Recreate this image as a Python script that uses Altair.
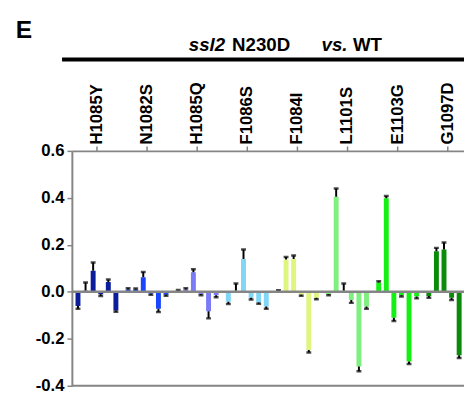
import altair as alt
import pandas as pd

groups = ["H1085Y", "N1082S", "H1085Q", "F1086S", "F1084I", "L1101S", "E1103G", "G1097D"]
colors = ["#0c1d9c", "#1a45ff", "#7b7bf8", "#80d6f6", "#def57e", "#7ff07f", "#14f014", "#0a8c0a"]
values = [
    [-0.060, 0.005, 0.090, -0.010, 0.042, -0.080],
    [0.010, 0.010, 0.062, -0.008, -0.072, -0.012],
    [0.005, 0.010, 0.083, -0.010, -0.083, -0.015],
    [-0.042, 0.005, 0.140, -0.025, -0.045, -0.062],
    [0.004, 0.138, 0.140, -0.012, -0.248, -0.025],
    [-0.010, 0.405, 0.005, -0.035, -0.318, -0.062],
    [0.040, 0.398, -0.110, -0.015, -0.297, -0.020],
    [-0.018, 0.173, 0.180, -0.025, -0.270, -0.050],
]
errors = [
    [0.012, 0.035, 0.035, 0.008, 0.010, 0.005],
    [0.005, 0.004, 0.022, 0.005, 0.014, 0.005],
    [0.003, 0.005, 0.013, 0.005, 0.030, 0.008],
    [0.010, 0.030, 0.040, 0.008, 0.006, 0.010],
    [0.003, 0.010, 0.015, 0.005, 0.010, 0.007],
    [0.005, 0.035, 0.030, 0.012, 0.020, 0.010],
    [0.005, 0.010, 0.014, 0.005, 0.010, 0.008],
    [0.007, 0.014, 0.030, 0.010, 0.012, 0.010],
]
y_ticks = [-0.4, -0.2, 0.0, 0.2, 0.4, 0.6]

rows = []
for gi, g in enumerate(groups):
    for j in range(6):
        v = values[gi][j]
        e = errors[gi][j]
        rows.append({
            "group": g,
            "idx": j,
            "value": v,
            "end": v + e if v >= 0 else v - e,
        })
df = pd.DataFrame(rows)

FONT = "Liberation Sans"
GRAY = "#858585"
PLOT_W = 399      # visible plot width (page is cut on the right)
FULL_W = 408      # width the 8 groups would take
TOP = 142         # plot top (page y 150)

xenc = alt.X("group:N", sort=groups,
             scale=alt.Scale(paddingInner=0, paddingOuter=0, range=[0, FULL_W]),
             axis=alt.Axis(orient="top", labelAngle=270, labelFont=FONT,
                           labelFontWeight="bold", labelFontSize=17,
                           labelColor="black", tickColor=GRAY, domainColor=GRAY,
                           domainWidth=2, tickWidth=1.5, tickSize=5,
                           labelPadding=2, title=None))
xoff = alt.XOffset("idx:O", scale=alt.Scale(paddingInner=0.35, paddingOuter=0.48))
yenc = alt.Y("value:Q", scale=alt.Scale(domain=[-0.4, 0.6], nice=False),
             axis=alt.Axis(values=y_ticks, grid=False,
                           labelExpr="(datum.value < 0 ? '-' : '') + format(abs(datum.value), '.1f')",
                           labelFont=FONT, labelFontWeight="bold",
                           labelFontSize=17, labelColor="black",
                           tickColor=GRAY, domainColor=GRAY, domainWidth=2,
                           tickWidth=1.5, tickSize=5, labelPadding=3,
                           title=None))

base = alt.Chart(df)

bars = base.mark_bar(clip=True).encode(
    x=xenc, xOffset=xoff, y=yenc,
    y2=alt.datum(0),
    color=alt.Color("group:N", sort=groups,
                    scale=alt.Scale(domain=groups, range=colors), legend=None),
)
err = base.mark_rule(color="black", strokeWidth=2, clip=True).encode(
    x=xenc, xOffset=xoff, y="value:Q", y2="end:Q")
caps = base.mark_tick(color="black", thickness=2.5, size=5, clip=True).encode(
    x=xenc, xOffset=xoff, y="end:Q")
zero = alt.Chart(pd.DataFrame({"z": [0]})).mark_rule(
    color=GRAY, strokeWidth=2.5).encode(y="z:Q")
bottom = alt.Chart(pd.DataFrame({"z": [-0.4]})).mark_rule(
    color=GRAY, strokeWidth=2).encode(y="z:Q")


def label(text, x, y, size, italic=False, align="left"):
    return alt.Chart(pd.DataFrame({"t": [text]})).mark_text(
        font=FONT, fontWeight="bold", fontSize=size,
        fontStyle="italic" if italic else "normal",
        align=align, baseline="alphabetic", color="black",
    ).encode(text="t:N", x=alt.value(x), y=alt.value(y))


texts = [
    label("E", -57, 35 - 8 - TOP, 25),
    label("ssl2", 119, 48 - 8 - TOP, 19, italic=True),
    label("N230D", 163, 48 - 8 - TOP, 19),
    label("vs.", 254, 48 - 8 - TOP, 19, italic=True),
    label("WT", 286, 48 - 8 - TOP, 19),
]
topline = alt.Chart(pd.DataFrame({"a": [0]})).mark_rule(
    color="black", strokeWidth=4).encode(
    x=alt.value(-10), x2=alt.value(FULL_W + 10), y=alt.value(57 - 8 - TOP))

chart = alt.layer(bars, err, caps, zero, bottom, topline, *texts).properties(
    width=PLOT_W, height=239,
    autosize=alt.AutoSizeParams(type="none"),
    padding={"left": 65, "top": TOP, "right": 0, "bottom": 6},
).configure_view(stroke=None)

chart.save("out.html", embed_options={"renderer": "svg", "actions": False})
